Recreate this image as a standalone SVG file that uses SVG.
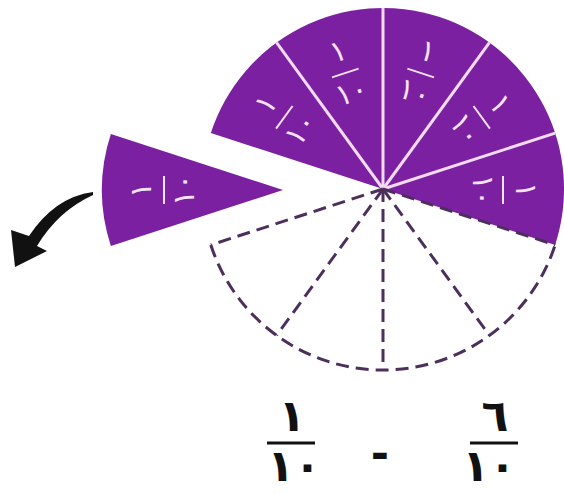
<svg xmlns="http://www.w3.org/2000/svg" width="564" height="494" viewBox="0 0 564 494">
<style>
.slice{fill:#7b20a1}
.spoke{stroke:#f3dcf3;stroke-width:3;fill:none}
.dash{stroke:#4d2f5c;stroke-width:3;stroke-dasharray:13 7;fill:none}
.lbl{font-family:"DejaVu Sans",sans-serif;font-size:30px;fill:#f5e2f5;text-anchor:middle}
.lbar{stroke:#f5e2f5;stroke-width:2}
.big{font-family:"DejaVu Sans",sans-serif;font-size:44px;font-weight:bold;fill:#111;text-anchor:middle}
.bbar{stroke:#111;stroke-width:3}
</style>
<defs>
<g id="frac">
<text class="lbl" x="0" y="-13">١</text>
<line class="lbar" x1="-14" y1="0" x2="14" y2="0"/>
<text class="lbl" x="0" y="30">١٠</text>
</g>
</defs>
<g id="circle">
<path class="slice" d="M383,189 L555.15,244.93 A181,181 0 0 0 210.85,133.07 Z"/>
<g id="spokes">
<line class="spoke" x1="383" y1="189" x2="555.15" y2="133.07"/>
<line class="spoke" x1="383" y1="189" x2="489.39" y2="42.57"/>
<line class="spoke" x1="383" y1="189" x2="383" y2="8"/>
<line class="spoke" x1="383" y1="189" x2="276.61" y2="42.57"/>
</g>
<g id="dashed">
<path class="dash" d="M210.85,244.93 A181,181 0 0 0 555.15,244.93"/>
<line class="dash" x1="383" y1="189" x2="210.85" y2="244.93"/>
<line class="dash" x1="383" y1="189" x2="276.61" y2="335.43"/>
<line class="dash" x1="383" y1="189" x2="383" y2="370"/>
<line class="dash" x1="383" y1="189" x2="489.39" y2="335.43"/>
<line class="dash" x1="383" y1="189" x2="555.15" y2="244.93"/>
</g>
<use href="#frac" transform="translate(503,190) rotate(90)"/>
<use href="#frac" transform="translate(481.7,117.3) rotate(54)"/>
<use href="#frac" transform="translate(420.7,73) rotate(18)"/>
<use href="#frac" transform="translate(345.3,73) rotate(-18)"/>
<use href="#frac" transform="translate(284.3,117.3) rotate(-54)"/>
</g>
<g id="removed">
<path class="slice" d="M283,190 L110.85,134.07 A181,181 0 0 0 110.85,245.93 Z"/>
<use href="#frac" transform="translate(164,190) rotate(-90)"/>
</g>
<g id="arrow">
<path fill="#111" d="M93,192 Q55,197 29,236 L11,230 L15,267 L47,251 L37,246 Q58,211 93,195 Z"/>
</g>
<g id="equation">
<text class="big" x="292" y="431">١</text>
<line class="bbar" x1="267" y1="443" x2="315" y2="443"/>
<text class="big" x="294" y="481">١٠</text>
<text class="big" x="380" y="469">-</text>
<text class="big" x="495" y="431">٦</text>
<line class="bbar" x1="470" y1="443" x2="518" y2="443"/>
<text class="big" x="489" y="481">١٠</text>
</g>
</svg>
